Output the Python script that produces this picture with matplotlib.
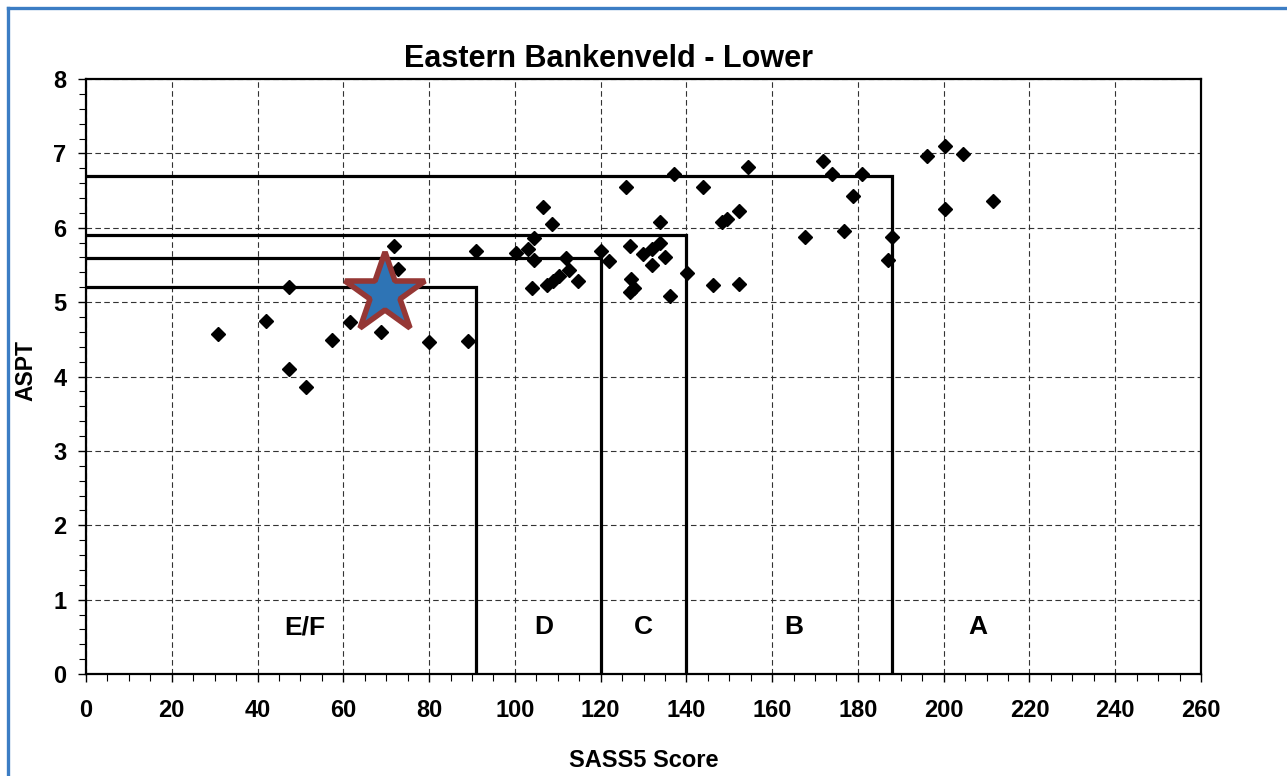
import matplotlib
matplotlib.use("Agg")
import matplotlib.pyplot as plt
from matplotlib.lines import Line2D
from matplotlib.ticker import MultipleLocator

plt.rcParams['font.family'] = ['Liberation Sans', 'DejaVu Sans']

# Site scores: SASS5 score vs ASPT
sass5 = [30.8, 42.0, 47.3, 47.3, 51.3, 57.4, 61.6, 68.8, 71.8, 72.8,
         80.0, 89.1, 91.0, 100.3, 103.1, 104.5, 104.5, 104.0, 106.6, 108.7,
         107.6, 109.0, 110.4, 112.6, 111.9, 114.7, 120.1, 122.0, 125.9, 126.9,
         127.1, 126.9, 127.8, 129.9, 132.0, 132.0, 133.9, 133.9, 135.0, 136.2,
         137.1, 140.2, 143.9, 146.2, 148.3, 149.5, 152.3, 152.3, 154.4, 167.7,
         171.9, 174.0, 176.8, 178.9, 181.0, 187.0, 188.0, 196.1, 200.3, 204.5,
         200.3, 211.5]
aspt = [4.57, 4.75, 5.21, 4.10, 3.86, 4.49, 4.73, 4.60, 5.75, 5.45,
        4.46, 4.48, 5.69, 5.66, 5.71, 5.86, 5.57, 5.19, 6.28, 6.05,
        5.23, 5.29, 5.35, 5.43, 5.59, 5.28, 5.69, 5.55, 6.55, 5.75,
        5.31, 5.14, 5.19, 5.65, 5.71, 5.50, 5.80, 6.08, 5.61, 5.08,
        6.72, 5.39, 6.55, 5.23, 6.08, 6.12, 6.23, 5.24, 6.82, 5.88,
        6.90, 6.72, 5.96, 6.43, 6.72, 5.57, 5.88, 6.96, 7.10, 6.99,
        6.25, 6.36]

# Current site
site_sass5 = [69.7]
site_aspt = [5.11]

# Ecological category boundaries (SASS5 limit, ASPT limit)
boundary_sass5 = [91, 120, 140, 188]
boundary_aspt = [5.2, 5.6, 5.9, 6.7]

# Category labels
cat_names = ['E/F', 'D', 'C', 'B', 'A']
cat_x = [51, 106.8, 130, 165, 208]
cat_y = [0.63, 0.63, 0.63, 0.63, 0.63]

W, H = 1287, 776
fig = plt.figure(figsize=(W / 100, H / 100), dpi=100)
ax = fig.add_axes([86 / W, 1 - 674 / H, (1201 - 86) / W, (674 - 79) / H])

ax.set_xlim(0, 260)
ax.set_ylim(0, 8)
ax.xaxis.set_major_locator(MultipleLocator(20))
ax.xaxis.set_minor_locator(MultipleLocator(5))
ax.yaxis.set_major_locator(MultipleLocator(1))
ax.yaxis.set_minor_locator(MultipleLocator(0.2))

ax.grid(True, which='major', color='#333333', linestyle=(0, (5, 3)), linewidth=0.8)
ax.set_axisbelow(True)

for s in ax.spines.values():
    s.set_linewidth(1.6)
    s.set_color('black')

ax.tick_params(axis='both', which='major', direction='out', length=6, width=1,
               labelsize=17, colors='black')
ax.tick_params(axis='both', which='minor', direction='out', length=5, width=0.8)
ax.tick_params(axis='x', which='major', pad=12)
ax.tick_params(axis='y', which='major', pad=8)
for lbl in ax.get_xticklabels() + ax.get_yticklabels():
    lbl.set_fontweight('bold')

# Category boundary lines
for bx, by in zip(boundary_sass5, boundary_aspt):
    ax.plot([0, bx, bx], [by, by, 0], color='black', linewidth=2.3,
            solid_joinstyle='miter', zorder=3)

ax.plot(sass5, aspt, linestyle='none', marker='D', markersize=7,
        color='black', zorder=4)

ax.plot(site_sass5, site_aspt, linestyle='none', marker='*', markersize=61,
        markerfacecolor='#2E74B5', markeredgecolor='#953735',
        markeredgewidth=4, zorder=5)

for name, cx, cy in zip(cat_names, cat_x, cat_y):
    ax.text(cx, cy, name, ha='center', va='center', fontsize=19,
            fontweight='bold', zorder=4)

ax.set_xlabel('SASS5 Score', fontsize=17, fontweight='bold')
ax.xaxis.set_label_coords(0.5, (674 - 749) / (674 - 79), transform=ax.transAxes)
ax.set_ylabel('ASPT', fontsize=16.5, fontweight='bold')
ax.yaxis.set_label_coords((37 - 86) / (1201 - 86), 0.51, transform=ax.transAxes)

fig.text(608 / W, 1 - 59 / H, 'Eastern Bankenveld - Lower', ha='center',
         va='center', fontsize=22, fontweight='bold')

# Blue frame around the chart area
fig.add_artist(Line2D([8 / W, 1.0], [1 - 8 / H, 1 - 8 / H], transform=fig.transFigure,
                      color='#3C7DC4', linewidth=2.4))
fig.add_artist(Line2D([8 / W, 8 / W], [0.0, 1 - 8 / H], transform=fig.transFigure,
                      color='#3C7DC4', linewidth=2.4))

fig.savefig('out.png', dpi=100)
